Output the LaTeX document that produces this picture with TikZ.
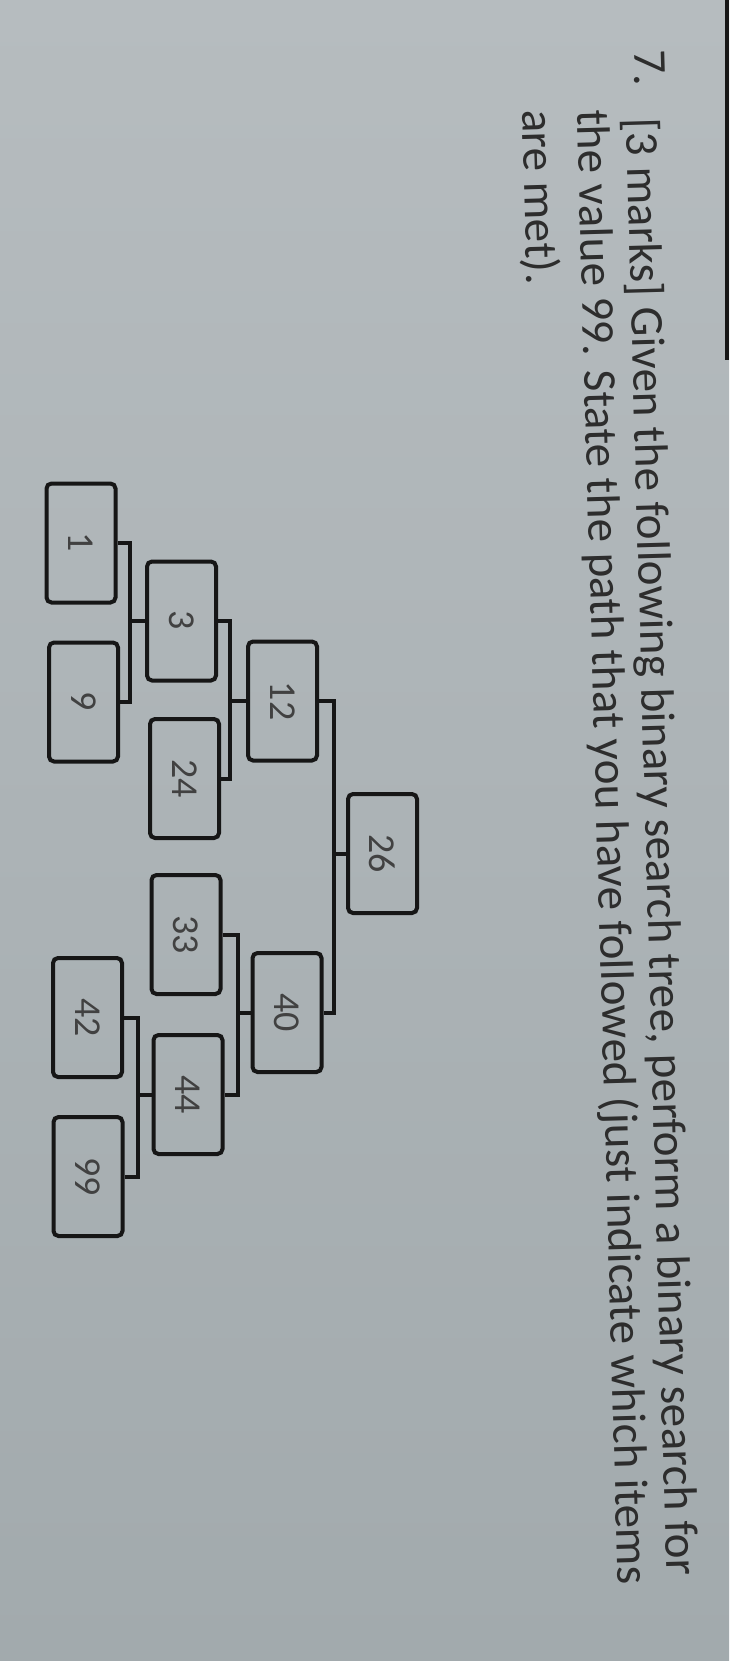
\documentclass[tikz,border=0pt]{standalone}
\usepackage{fontspec}
\setmainfont{Carlito}
\usetikzlibrary{calc}
\definecolor{bgtop}{RGB}{182,188,191}
\definecolor{bgbot}{RGB}{162,170,173}
\definecolor{ink}{RGB}{45,45,45}
\definecolor{lbl}{RGB}{65,65,65}
\definecolor{edge}{RGB}{22,22,22}
\begin{document}
\begin{tikzpicture}[x=1pt,y=-1pt,
  tnode/.style={draw=edge, line width=4pt, rounded corners=5pt, minimum width=69pt, minimum height=119pt, inner sep=0pt, text=lbl, font=\fontsize{38}{40}\selectfont},
  conn/.style={draw=edge, line width=4pt},
  qtext/.style={rotate=-88.4, anchor=base west, inner sep=0pt, text=ink, font=\fontsize{47}{56}\selectfont}]
\fill[bgtop] (0,0) rectangle (729,1661);
\shade[top color=bgtop, bottom color=bgbot] (0,0) rectangle (729,1661);
\useasboundingbox (0,0) rectangle (729,1661);
\fill[edge] (725,0) rectangle (729,360);
% question text
\node[qtext] (q0) at (634,50) {7.};
\node[qtext] (q1) at (626,118) {[3 marks] Given the following binary search tree, perform a binary search for};
\node[qtext] (q2) at (577,110) {the value 99. State the path that you have followed (just indicate which items};
\node[qtext] (q3) at (522,110) {are met).};
% tree nodes
\node[tnode] (n1)  at (81,543)    {\rotatebox[origin=c]{-90}{1}};
\node[tnode] (n9)  at (83.5,702)  {\rotatebox[origin=c]{-90}{9}};
\node[tnode] (n3)  at (181.5,621) {\rotatebox[origin=c]{-90}{3}};
\node[tnode] (n24) at (184.5,778.5) {\rotatebox[origin=c]{-90}{24}};
\node[tnode] (n12) at (282.5,701) {\rotatebox[origin=c]{-90}{12}};
\node[tnode] (n26) at (382.5,853.5) {\rotatebox[origin=c]{-90}{26}};
\node[tnode] (n33) at (186,934.5) {\rotatebox[origin=c]{-90}{33}};
\node[tnode] (n44) at (188,1094.5) {\rotatebox[origin=c]{-90}{44}};
\node[tnode] (n40) at (287,1012.5) {\rotatebox[origin=c]{-90}{40}};
\node[tnode] (n42) at (87.5,1017.5) {\rotatebox[origin=c]{-90}{42}};
\node[tnode] (n99) at (88,1176.5) {\rotatebox[origin=c]{-90}{99}};
% bus coordinates
\path (n3.west)  ++(-15,0) coordinate (b3);
\path (n12.west) ++(-16,0) coordinate (b12);
\path (n26.west) ++(-12,0) coordinate (b26);
\path (n40.west) ++(-13,0) coordinate (b40);
\path (n44.west) ++(-14,0) coordinate (b44);
% connectors
\draw[conn] (n1.east) -| (b3) |- (n9.east);
\draw[conn] (n3.west) -- (b3);
\draw[conn] (n3.east) -| (b12) |- (n24.east);
\draw[conn] (n12.west) -- (b12);
\draw[conn] (n12.east) -| (b26) |- (n40.east);
\draw[conn] (n26.west) -- (b26);
\draw[conn] (n33.east) -| (b40) |- (n44.east);
\draw[conn] (n40.west) -- (b40);
\draw[conn] (n42.east) -| (b44) |- (n99.east);
\draw[conn] (n44.west) -- (b44);
\end{tikzpicture}
\end{document}
